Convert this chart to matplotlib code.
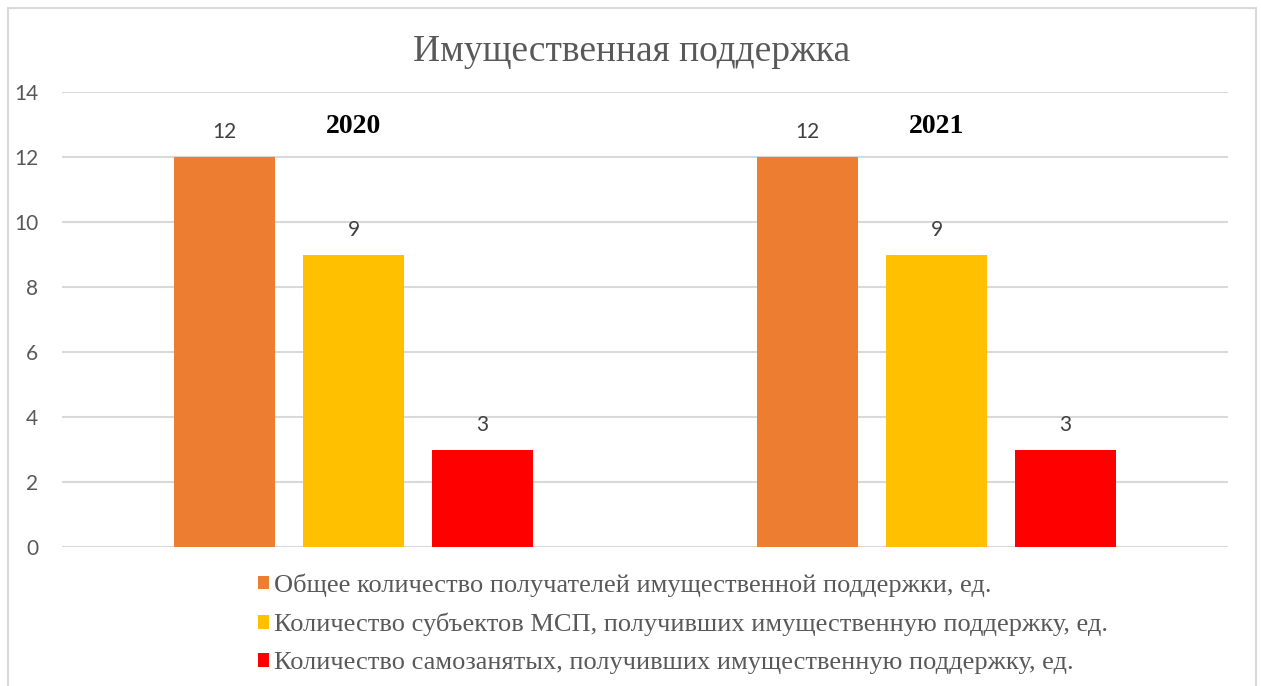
import numpy as np
import matplotlib.pyplot as plt
from matplotlib.patches import Rectangle, Patch

years = ["2020", "2021"]
seriesNames = [
    "Общее количество получателей имущественной поддержки, ед.",
    "Количество субъектов МСП, получивших имущественную поддержку, ед.",
    "Количество самозанятых, получивших имущественную поддержку, ед.",
]
totalRecipients = [12, 12]
smeRecipients = [9, 9]
selfEmployed = [3, 3]
colors = ["#ED7D31", "#FFC000", "#FF0000"]
yTicks = [0, 2, 4, 6, 8, 10, 12, 14]

W, H = 1261, 686
fig = plt.figure(figsize=(W / 100, H / 100), dpi=100)
ax = fig.add_axes([62 / W, 1 - 547 / H, (1228 - 62) / W, (547 - 92) / H])

# chart border
fig.patches.append(Rectangle((8 / W, -0.01), (1256 - 8) / W, 1 - 8 / H + 0.01,
                             transform=fig.transFigure, fill=False,
                             edgecolor="#d9d9d9", linewidth=1.5))

x = np.arange(len(years))
width = 0.173
step = 0.221
allSeries = [totalRecipients, smeRecipients, selfEmployed]
for i, vals in enumerate(allSeries):
    pos = x + (i - 1) * step
    bars = ax.bar(pos, vals, width=width, color=colors[i], zorder=3)
    for b, v in zip(bars, vals):
        ax.text(b.get_x() + b.get_width() / 2, v + 0.45, str(v), ha="center",
                va="bottom", fontsize=15, color="#404040", family="Lato")

for xi, yr in zip(x, years):
    ax.text(xi, 12.55, yr, ha="center", va="bottom", fontsize=20,
            fontweight="bold", family="Liberation Serif", color="black")

ax.set_xlim(-0.5, 1.5)
ax.set_ylim(0, 14)
ax.set_yticks(yTicks)
ax.set_yticklabels([str(t) for t in yTicks], fontsize=15, color="#595959", family="Lato")
ax.set_xticks([])
ax.tick_params(axis="y", length=0, pad=17)
ax.grid(axis="y", color="#d9d9d9", linewidth=1.5, zorder=0)
for s in ax.spines.values():
    s.set_visible(False)

fig.text(632 / W, 1 - 52 / H, "Имущественная поддержка", ha="center", va="center",
         fontsize=27, family="Liberation Serif", color="#595959")

handles = [Patch(facecolor=c) for c in colors]
leg = fig.legend(handles, seriesNames, loc="upper left",
                 bbox_to_anchor=(247 / W, 1 - 563 / H), frameon=False,
                 prop={"family": "Liberation Serif", "size": 19},
                 handlelength=0.42, handleheight=0.42, handletextpad=0.2,
                 labelspacing=0.6, borderaxespad=0)
for t in leg.get_texts():
    t.set_color("#595959")

fig.savefig("out.png", dpi=100)
